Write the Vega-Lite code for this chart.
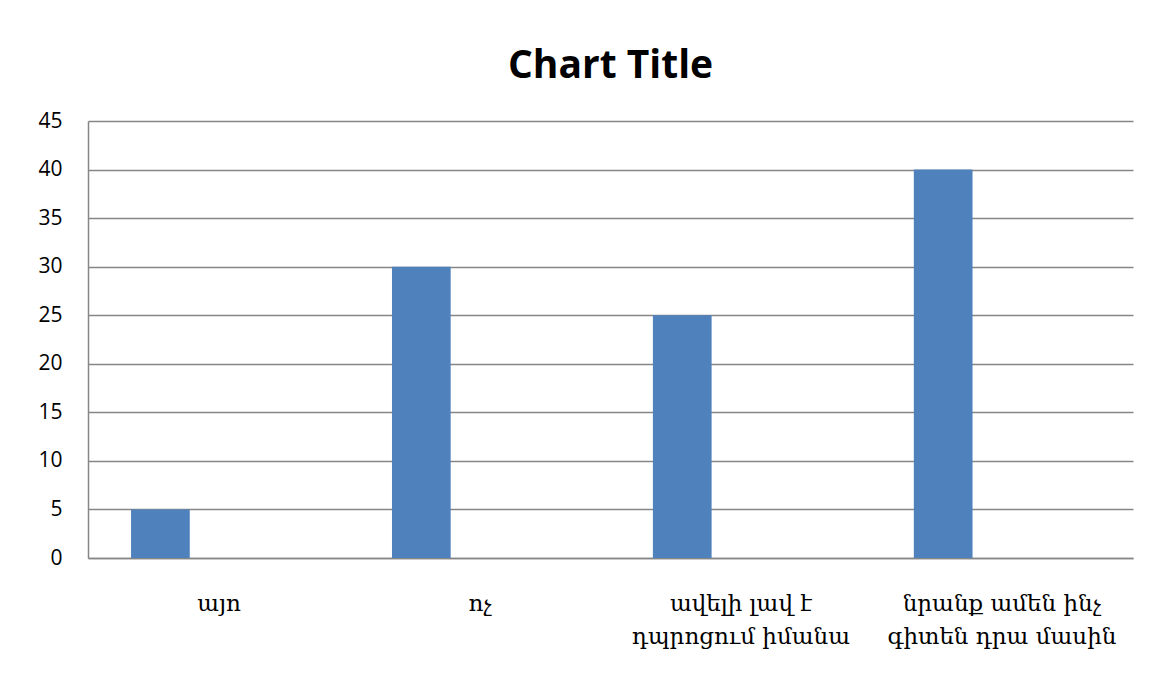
{
  "$schema": "https://vega.github.io/schema/vega-lite/v6.json",
  "width": 1045,
  "height": 437,
  "padding": {"left": 6, "top": 47, "right": 37, "bottom": 5},
  "background": "white",
  "title": {
    "text": "Chart Title",
    "font": "Open Sans",
    "fontSize": 39,
    "fontWeight": "bold",
    "color": "#000000",
    "anchor": "middle",
    "offset": 24
  },
  "data": {
    "values": [
      {"category": "այո", "series": "Series1", "value": 5},
      {"category": "ոչ", "series": "Series1", "value": 30},
      {"category": "ավելի լավ է դպրոցում իմանա", "series": "Series1", "value": 25},
      {"category": "նրանք ամեն ինչ գիտեն դրա մասին", "series": "Series1", "value": 40}
    ]
  },
  "mark": {"type": "bar", "color": "#4F81BD"},
  "encoding": {
    "x": {
      "field": "category",
      "type": "nominal",
      "sort": null,
      "scale": {"paddingInner": 0.325, "paddingOuter": 0.165},
      "axis": {
        "title": null,
        "labelAngle": 0,
        "labelFont": "DejaVu Serif",
        "labelFontSize": 23,
        "labelColor": "#000000",
        "labelPadding": 34,
        "labelLineHeight": 33,
        "labelLimit": 0,
        "labelExpr": "datum.label == 'ավելի լավ է դպրոցում իմանա' ? ['ավելի լավ է', 'դպրոցում իմանա'] : datum.label == 'նրանք ամեն ինչ գիտեն դրա մասին' ? ['նրանք ամեն ինչ', 'գիտեն դրա մասին'] : datum.label",
        "ticks": false,
        "domainColor": "#868686",
        "domainWidth": 1.5,
        "grid": false
      }
    },
    "xOffset": {
      "field": "series",
      "type": "nominal",
      "scale": {"domain": ["Series1", "Series2", "Series3"], "paddingInner": 0, "paddingOuter": 0}
    },
    "y": {
      "field": "value",
      "type": "quantitative",
      "scale": {"domain": [0, 45], "nice": false},
      "axis": {
        "title": null,
        "values": [0, 5, 10, 15, 20, 25, 30, 35, 40, 45],
        "labelFont": "Open Sans",
        "labelFontSize": 21,
        "labelColor": "#000000",
        "labelPadding": 26,
        "minExtent": 82,
        "maxExtent": 82,
        "ticks": false,
        "domainColor": "#868686",
        "domainWidth": 1.5,
        "gridColor": "#868686",
        "gridWidth": 1.3
      }
    }
  },
  "config": {
    "view": {"stroke": null}
  }
}
